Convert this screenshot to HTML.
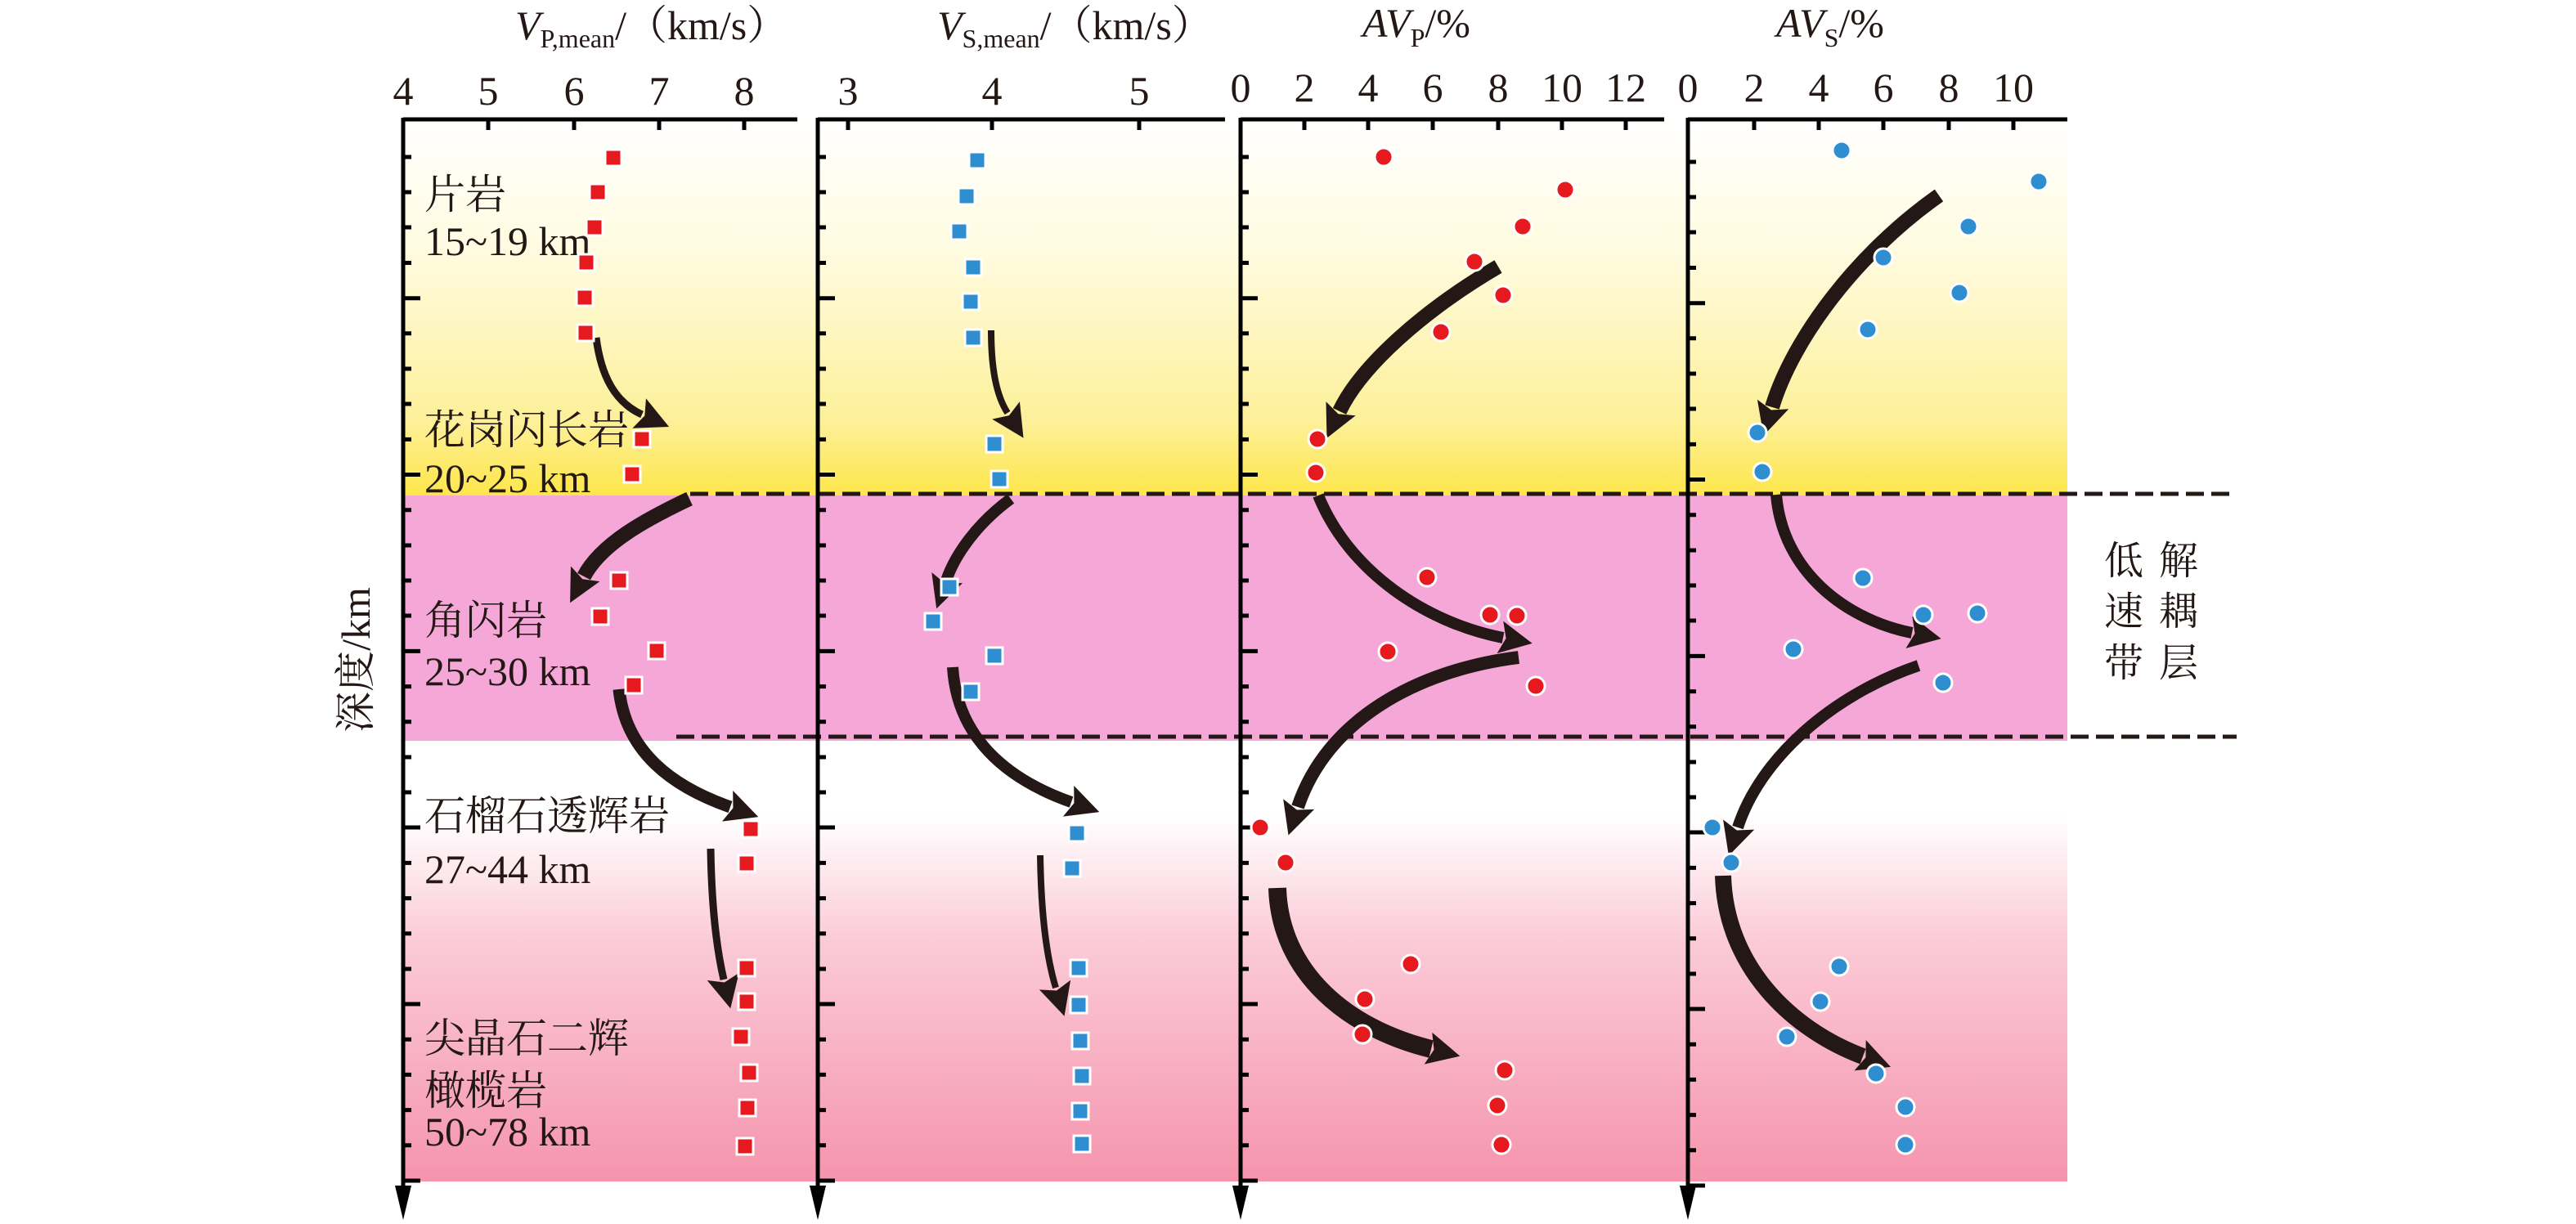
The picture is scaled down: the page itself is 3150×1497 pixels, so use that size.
<!DOCTYPE html>
<html><head><meta charset="utf-8"><style>
html,body{margin:0;padding:0;background:#fff;}
svg{display:block;}
.t{font-family:"Liberation Serif","Noto Serif CJK SC",serif;font-size:50px;fill:#231815;}
.c{font-family:"Liberation Serif","Noto Serif CJK SC",serif;font-size:48px;fill:#231815;}
</style></head><body>
<svg width="3150" height="1497" viewBox="0 0 3150 1497" xmlns="http://www.w3.org/2000/svg">
<defs>
<linearGradient id="gy" x1="0" y1="0" x2="0" y2="1">
<stop offset="0" stop-color="#ffffff"/><stop offset="0.35" stop-color="#fffbe0"/><stop offset="0.8" stop-color="#fdf09a"/><stop offset="1" stop-color="#fde64a"/>
</linearGradient>
<linearGradient id="gp" x1="0" y1="0" x2="0" y2="1">
<stop offset="0" stop-color="#ffffff"/><stop offset="0.17" stop-color="#ffffff"/><stop offset="0.45" stop-color="#fbcbd8"/><stop offset="1" stop-color="#f594ad"/>
</linearGradient>
<marker id="h" markerUnits="userSpaceOnUse" markerWidth="40" markerHeight="40" refX="4" refY="22" orient="auto" viewBox="0 0 44 44">
<path d="M0,0 L44,22 L0,44 L8,22 Z" fill="#231815"/>
</marker>
<g id="lt" stroke="#000" stroke-width="5" fill="none">
<path d="M0,192h10M0,235h10M0,278h10M0,321.5h10M0,364.7h21M0,407.8h10M0,451h10M0,494h10M0,537.4h10M0,580.5h21M0,623.7h10M0,667h10M0,710h10M0,753h10M0,796.4h21M0,839.6h10M0,882.7h10M0,926h10M0,969h10M0,1012h21M0,1055.4h10M0,1098.6h10M0,1141.7h10M0,1185h10M0,1228h21M0,1271.3h10M0,1314.4h10M0,1357.6h10M0,1400.8h10M0,1444h21"/>
</g>
</defs>

<rect x="493" y="146" width="2035" height="460" fill="url(#gy)"/>
<rect x="493" y="606" width="2035" height="300" fill="#f5a8d8"/>
<rect x="493" y="906" width="2035" height="539" fill="url(#gp)"/>

<g stroke="#231815" stroke-width="5" stroke-dasharray="22,9" fill="none">
<line x1="844" y1="604" x2="2735" y2="604"/>
<line x1="827" y1="901" x2="2735" y2="901"/>
</g>

<g stroke="#000" stroke-width="5" fill="none">
<path d="M493,146 H975 M1000,146 H1498 M1517,146 H2035 M2064,146 H2528"/>
<path d="M493,144 V1475 M1000,144 V1475 M1517,144 V1475 M2064,144 V1475"/>
<path d="M597,146v13M702,146v13M806,146v13M910,146v13"/>
<path d="M1037,146v13M1213,146v13M1393,146v13"/>
<path d="M1595,146v13M1673,146v13M1752,146v13M1832,146v13M1910,146v13M1988,146v13"/>
<path d="M2145,146v13M2224,146v13M2303,146v13M2383,146v13M2462,146v13"/>
</g>
<g fill="#000">
<path d="M483,1450 L493,1492 L503,1450 Z"/>
<path d="M990,1450 L1000,1492 L1010,1450 Z"/>
<path d="M1507,1450 L1517,1492 L1527,1450 Z"/>
<path d="M2054,1450 L2064,1492 L2074,1450 Z"/>
</g>
<use href="#lt" x="493" y="0"/>
<use href="#lt" x="1000" y="0"/>
<use href="#lt" x="1517" y="0"/>
<use href="#lt" x="2064" y="6"/>

<g class="t" text-anchor="middle">
<text x="493" y="128">4</text><text x="597" y="128">5</text><text x="702" y="128">6</text><text x="806" y="128">7</text><text x="910" y="128">8</text>
<text x="1037" y="128">3</text><text x="1213" y="128">4</text><text x="1393" y="128">5</text>
<text x="1517" y="124">0</text><text x="1595" y="124">2</text><text x="1673" y="124">4</text><text x="1752" y="124">6</text><text x="1832" y="124">8</text><text x="1910" y="124">10</text><text x="1988" y="124">12</text>
<text x="2064" y="124">0</text><text x="2145" y="124">2</text><text x="2224" y="124">4</text><text x="2303" y="124">6</text><text x="2383" y="124">8</text><text x="2462" y="124">10</text>
</g>

<text class="t" x="630" y="48"><tspan font-style="italic">V</tspan><tspan font-size="32" dy="10">P,mean</tspan><tspan dy="-10">/（km/s）</tspan></text>
<text class="t" x="1146" y="48"><tspan font-style="italic">V</tspan><tspan font-size="32" dy="10">S,mean</tspan><tspan dy="-10">/（km/s）</tspan></text>
<text class="t" x="1666" y="45"><tspan font-style="italic">AV</tspan><tspan font-size="32" dy="12">P</tspan><tspan dy="-12">/%</tspan></text>
<text class="t" x="2172" y="45"><tspan font-style="italic">AV</tspan><tspan font-size="32" dy="12">S</tspan><tspan dy="-12">/%</tspan></text>

<text class="t" transform="translate(452,807) rotate(-90)" text-anchor="middle">深度/km</text>

<g class="t">
<text x="519" y="255">片岩</text>
<text x="519" y="312">15~19 km</text>
<text x="519" y="543">花岗闪长岩</text>
<text x="519" y="602">20~25 km</text>
<text x="519" y="776">角闪岩</text>
<text x="519" y="838">25~30 km</text>
<text x="519" y="1015">石榴石透辉岩</text>
<text x="519" y="1080">27~44 km</text>
<text x="519" y="1287">尖晶石二辉</text>
<text x="519" y="1351">橄榄岩</text>
<text x="519" y="1401">50~78 km</text>
</g>
<g class="c" text-anchor="middle">
<text x="2597" y="702">低</text><text x="2664" y="702">解</text>
<text x="2597" y="764">速</text><text x="2664" y="764">耦</text>
<text x="2597" y="827">带</text><text x="2664" y="827">层</text>
</g>

<g stroke="#231815" fill="none" marker-end="url(#h)">
<path stroke-width="9" d="M729,413 C735,460 752,492 785,507"/>
<path stroke-width="18" d="M843,610 C790,635 735,665 714,705"/>
<path stroke-width="15" d="M757,843 C765,920 822,962 893,987"/>
<path stroke-width="9" d="M869,1038 C870,1100 875,1155 885,1198"/>
<path stroke-width="8" d="M1212,404 C1212,450 1218,483 1232,505"/>
<path stroke-width="14" d="M1236,610 C1195,640 1168,678 1157,710"/>
<path stroke-width="14" d="M1165,816 C1170,900 1228,952 1310,981"/>
<path stroke-width="8" d="M1272,1046 C1273,1110 1278,1165 1291,1208"/>
<path stroke-width="18" d="M1832,326 C1740,380 1664,448 1638,503"/>
<path stroke-width="14" d="M1612,606 C1650,700 1745,762 1838,780"/>
<path stroke-width="16" d="M1857,804 C1730,820 1622,882 1587,987"/>
<path stroke-width="22" d="M1562,1086 C1565,1190 1648,1258 1750,1283"/>
<path stroke-width="18" d="M2371,239 C2270,310 2192,415 2167,498"/>
<path stroke-width="14" d="M2172,605 C2180,700 2258,758 2338,774"/>
<path stroke-width="14" d="M2346,814 C2240,850 2152,928 2125,1012"/>
<path stroke-width="20" d="M2107,1071 C2110,1180 2188,1258 2278,1292"/>
</g>

<g fill="#e5191e" stroke="#fff" stroke-width="3">
<rect x="740" y="183" width="20" height="20"/><rect x="721" y="225" width="20" height="20"/><rect x="717" y="268" width="20" height="20"/><rect x="707" y="311" width="20" height="20"/><rect x="705" y="354" width="20" height="20"/><rect x="706" y="397" width="20" height="20"/><rect x="775" y="527" width="20" height="20"/><rect x="763" y="570" width="20" height="20"/>
<rect x="747" y="700" width="20" height="20"/><rect x="724" y="744" width="20" height="20"/><rect x="793" y="786" width="20" height="20"/><rect x="765" y="828" width="20" height="20"/><rect x="908" y="1004" width="20" height="20"/><rect x="903" y="1046" width="20" height="20"/><rect x="903" y="1174" width="20" height="20"/><rect x="903" y="1215" width="20" height="20"/><rect x="896" y="1258" width="20" height="20"/><rect x="906" y="1302" width="20" height="20"/><rect x="904" y="1345" width="20" height="20"/><rect x="901" y="1392" width="20" height="20"/>
</g>
<g fill="#2e8ecf" stroke="#fff" stroke-width="3">
<rect x="1185" y="186" width="20" height="20"/><rect x="1172" y="230" width="20" height="20"/><rect x="1163" y="273" width="20" height="20"/><rect x="1180" y="317" width="20" height="20"/><rect x="1177" y="359" width="20" height="20"/><rect x="1180" y="403" width="20" height="20"/><rect x="1206" y="533" width="20" height="20"/><rect x="1212" y="576" width="20" height="20"/>
<rect x="1151" y="708" width="20" height="20"/><rect x="1131" y="750" width="20" height="20"/><rect x="1206" y="792" width="20" height="20"/><rect x="1177" y="836" width="20" height="20"/><rect x="1307" y="1009" width="20" height="20"/><rect x="1301" y="1052" width="20" height="20"/><rect x="1309" y="1174" width="20" height="20"/><rect x="1309" y="1219" width="20" height="20"/><rect x="1311" y="1263" width="20" height="20"/><rect x="1313" y="1306" width="20" height="20"/><rect x="1311" y="1349" width="20" height="20"/><rect x="1313" y="1389" width="20" height="20"/>
</g>
<g fill="#e5191e" stroke="#fff" stroke-width="3">
<circle cx="1692" cy="192" r="11"/><circle cx="1914" cy="232" r="11"/><circle cx="1862" cy="277" r="11"/><circle cx="1803" cy="320" r="11"/><circle cx="1838" cy="361" r="11"/><circle cx="1762" cy="406" r="11"/><circle cx="1611" cy="537" r="11"/><circle cx="1609" cy="578" r="11"/>
<circle cx="1745" cy="706" r="11"/><circle cx="1822" cy="752" r="11"/><circle cx="1855" cy="753" r="11"/><circle cx="1697" cy="797" r="11"/><circle cx="1878" cy="839" r="11"/><circle cx="1541" cy="1012" r="11"/><circle cx="1572" cy="1055" r="11"/><circle cx="1725" cy="1179" r="11"/><circle cx="1669" cy="1222" r="11"/><circle cx="1666" cy="1265" r="11"/><circle cx="1840" cy="1309" r="11"/><circle cx="1831" cy="1352" r="11"/><circle cx="1836" cy="1400" r="11"/>
</g>
<g fill="#2e8ecf" stroke="#fff" stroke-width="3">
<circle cx="2252" cy="184" r="11"/><circle cx="2493" cy="222" r="11"/><circle cx="2407" cy="277" r="11"/><circle cx="2303" cy="315" r="11"/><circle cx="2396" cy="358" r="11"/><circle cx="2284" cy="403" r="11"/><circle cx="2149" cy="529" r="11"/><circle cx="2155" cy="577" r="11"/>
<circle cx="2278" cy="707" r="11"/><circle cx="2352" cy="752" r="11"/><circle cx="2418" cy="750" r="11"/><circle cx="2193" cy="794" r="11"/><circle cx="2376" cy="835" r="11"/><circle cx="2094" cy="1012" r="11"/><circle cx="2117" cy="1055" r="11"/><circle cx="2249" cy="1182" r="11"/><circle cx="2226" cy="1225" r="11"/><circle cx="2185" cy="1268" r="11"/><circle cx="2294" cy="1313" r="11"/><circle cx="2330" cy="1354" r="11"/><circle cx="2330" cy="1400" r="11"/>
</g>
</svg>
</body></html>
